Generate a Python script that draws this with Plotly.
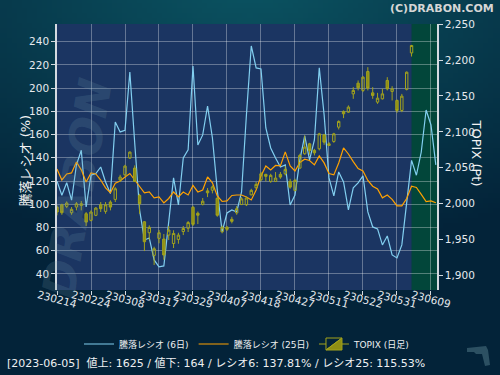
import base64, struct, zlib
import numpy as np
import plotly.graph_objects as go

# ---------------- data ----------------
tick_labels = ['230214', '230224', '230308', '230317', '230329', '230407',
               '230418', '230427', '230511', '230522', '230531', '230609']

ratio6 = [119.8, 107.8, 118.6, 103.5, 134.0, 146.5, 97.7, 125.0, 126.4, 132.1,
          119.2, 109.2, 170.9, 162.3, 163.7, 213.9, 152.8, 95.1, 69.3, 71.0,
          52.1, 46.1, 46.9, 84.8, 122.7, 99.4, 139.9, 146.8, 219.1, 151.1,
          159.7, 184.6, 157.1, 112.3, 76.2, 92.5, 95.1, 93.4, 110.6, 176.9,
          236.3, 217.4, 216.5, 165.7, 148.5, 139.9, 132.1, 133.9, 99.4, 108.0,
          138.2, 158.8, 138.2, 155.4, 217.4, 176.9, 122.7, 107.2, 127.8, 119.2,
          95.1, 114.1, 118.4, 124.4, 93.4, 80.5, 78.8, 65.0, 72.7, 56.4,
          53.8, 65.0, 103.5, 137.81, 125.0, 145.0, 181.2, 168.3, 133.9]

ratio25 = [130.4, 120.9, 126.1, 127.0, 136.4, 129.6, 119.2, 127.0, 126.1, 120.9,
           114.1, 110.0, 118.1, 120.1, 123.5, 126.5, 120.9, 114.9, 109.8, 110.6,
           105.5, 106.3, 101.2, 105.0, 110.6, 106.3, 110.6, 108.0, 116.2, 110.6,
           112.3, 123.5, 118.4, 107.2, 102.4, 102.9, 107.6, 108.0, 108.0, 106.3,
           103.7, 112.3, 124.4, 133.0, 129.6, 133.4, 133.0, 145.1, 133.0, 128.7,
           136.0, 138.8, 137.7, 133.9, 141.6, 135.6, 126.5, 125.3, 135.6, 148.5,
           143.3, 136.7, 130.8, 128.7, 120.5, 115.6, 113.2, 105.5, 107.9, 104.2,
           98.6, 98.6, 105.0, 115.53, 114.5, 108.5, 102.4, 102.9, 101.3]

topix_open = [1995.1, 1998.3, 1996.1, 1987.2, 1995.1, 1999.7, 1985.8, 1976.6, 1983.6, 1998.3,
              1989.1, 2002.1, 2005.8, 2033.1, 2040.1, 2063.4, 2049.4, 2011.4, 1974.6, 1959.3,
              1927.8, 1951.5, 1950.5, 1956.1, 1944.3, 1950.0, 1961.0, 1965.6, 1994.8, 1986.5,
              1998.9, 2017.7, 2018.6, 2007.4, 1960.6, 1967.0, 1978.0, 1987.0, 1998.6, 1998.3,
              2012.2, 2022.0, 2033.1, 2040.7, 2030.9, 2030.9, 2040.7, 2041.5, 2030.9, 2018.4,
              2049.4, 2069.4, 2083.3, 2074.1, 2076.3, 2095.8, 2083.3, 2086.6, 2106.5, 2128.4,
              2127.4, 2152.9, 2167.8, 2157.7, 2184.1, 2154.3, 2141.4, 2146.0, 2171.6, 2156.3,
              2143.7, 2129.8, 2159.1, 2210.0]
topix_high = [1997.5, 1999.7, 2003.0, 1995.1, 2002.1, 2003.5, 1988.2, 1990.5, 1995.0, 2002.1,
              2002.1, 2004.5, 2022.9, 2040.1, 2054.0, 2072.7, 2053.2, 2013.6, 1975.5, 1969.6,
              1939.8, 1963.1, 1957.5, 1968.7, 1962.7, 1959.3, 1968.7, 1975.6, 1997.0, 1988.9,
              2007.7, 2021.6, 2025.3, 2008.6, 1969.2, 1968.7, 1981.6, 1996.5, 2009.0, 2009.7,
              2020.6, 2030.0, 2043.9, 2041.5, 2041.5, 2043.9, 2043.9, 2052.2, 2034.5, 2034.5,
              2069.4, 2095.0, 2084.7, 2076.3, 2098.6, 2097.2, 2085.6, 2098.6, 2115.9, 2129.8,
              2136.8, 2162.3, 2171.6, 2177.6, 2190.1, 2162.3, 2154.3, 2159.9, 2176.2, 2163.6,
              2145.1, 2152.9, 2184.1, 2221.2]
topix_low = [1983.6, 1984.4, 1993.7, 1984.4, 1990.5, 1990.5, 1968.7, 1975.2, 1982.5, 1988.2,
             1985.8, 1990.5, 2002.1, 2030.0, 2038.3, 2062.4, 2030.0, 1985.8, 1933.8, 1949.2,
             1914.3, 1944.6, 1921.7, 1949.2, 1938.0, 1944.0, 1956.1, 1960.3, 1968.7, 1971.4,
             1997.5, 2009.0, 2014.2, 1981.6, 1958.5, 1961.7, 1972.4, 1984.4, 1997.9, 1996.5,
             2011.4, 2020.6, 2030.9, 2030.9, 2029.0, 2030.0, 2034.5, 2039.3, 2020.6, 2017.0,
             2048.5, 2068.0, 2068.0, 2067.1, 2074.1, 2081.9, 2080.1, 2084.7, 2103.3, 2119.1,
             2126.5, 2146.0, 2157.7, 2155.3, 2157.7, 2146.0, 2139.0, 2145.1, 2157.7, 2143.7,
             2126.5, 2127.4, 2157.7, 2205.0]
topix_close = [1988.2, 1987.2, 2000.7, 1991.9, 1999.7, 1997.5, 1974.2, 1988.2, 1993.7, 1992.8,
               1998.3, 1995.1, 2020.6, 2036.9, 2052.2, 2071.7, 2030.9, 1999.7, 1946.8, 1966.8,
               1937.0, 1959.3, 1928.3, 1963.1, 1958.3, 1956.0, 1965.2, 1973.5, 1971.1, 1983.7,
               2003.2, 2015.0, 2023.2, 1983.7, 1967.0, 1964.1, 1975.2, 1992.8, 2006.5, 2007.7,
               2018.4, 2026.7, 2041.5, 2037.9, 2039.3, 2035.5, 2036.9, 2047.6, 2022.9, 2032.3,
               2067.1, 2078.7, 2074.1, 2070.7, 2097.2, 2085.6, 2081.0, 2097.2, 2114.5, 2125.1,
               2134.4, 2157.7, 2161.3, 2176.2, 2160.9, 2150.7, 2146.9, 2152.9, 2159.9, 2159.9,
               2129.8, 2149.7, 2183.1, 2220.3]

current_index = 73
footer_text = "[2023-06-05]  値上: 1625 / 値下: 164 / レシオ6: 137.81% / レシオ25: 115.53%"

x_line = list(range(len(ratio6)))
x_candle = list(range(len(topix_open)))
tick_vals = [7 * k for k in range(len(tick_labels))]

# ---------------- background gradient image ----------------
def gradient_png(w=100, h=75):
    dark = np.array([3, 35, 57], dtype=float)
    bright = np.array([11, 84, 98], dtype=float)
    u = (np.arange(w) + 0.5) / w
    v = (np.arange(h) + 0.5) / h
    U, V = np.meshgrid(u, v)
    dx = (U - 0.5) / 0.7
    dy = (V + 0.05) / 0.55
    d = np.sqrt(dx ** 2 + dy ** 2)
    t = np.clip(1 - 0.75 * d, 0, 1)[..., None]
    img = (dark + t * (bright - dark)).round().astype(np.uint8)
    raw = b''.join(b'\x00' + img[r].tobytes() for r in range(h))

    def chunk(tag, data):
        return (struct.pack('>I', len(data)) + tag + data +
                struct.pack('>I', zlib.crc32(tag + data) & 0xffffffff))
    png = (b'\x89PNG\r\n\x1a\n' +
           chunk(b'IHDR', struct.pack('>IIBBBBB', w, h, 8, 2, 0, 0, 0)) +
           chunk(b'IDAT', zlib.compress(raw)) + chunk(b'IEND', b''))
    return 'data:image/png;base64,' + base64.b64encode(png).decode()

# ---------------- figure ----------------
W, H = 500, 375
ML, MR, MT, MB = 57, 63, 24, 85
PW, PH = W - ML - MR, H - MT - MB

def px(xpix):
    return (xpix - ML) / PW

def py(ypix):
    return (H - MB - ypix) / PH

FONT = "DejaVu Sans, Noto Sans CJK JP"
TXT = "#e6eaee"
GRID = "rgba(255,255,255,0.32)"
AXC = "#d4dae0"

fig = go.Figure()

fig.add_trace(go.Scatter(
    x=x_line, y=ratio6, mode='lines', name='騰落レシオ (6日)',
    line=dict(color='#82cff0', width=1.2), yaxis='y'))
fig.add_trace(go.Scatter(
    x=x_line, y=ratio25, mode='lines', name='騰落レシオ (25日)',
    line=dict(color='#ffa200', width=1.2), yaxis='y'))
fig.add_trace(go.Candlestick(
    x=x_candle, open=topix_open, high=topix_high, low=topix_low, close=topix_close,
    name='TOPIX (日足)', yaxis='y2', whiskerwidth=0,
    increasing=dict(line=dict(color='#a3a31c', width=1), fillcolor='rgba(0,0,0,0)'),
    decreasing=dict(line=dict(color='#a3a31c', width=1), fillcolor='#8e8e14')))

annotations = []
for v, lab in zip(tick_vals, tick_labels):
    annotations.append(dict(x=v, xref='x', y=py(299), yref='paper', text=lab,
                            showarrow=False, textangle=15, xanchor='center', yanchor='middle',
                            font=dict(family=FONT, size=10.5, color=TXT)))
annotations += [
    dict(x=px(29), y=py(188), xref='paper', yref='paper', text='<b><i>DRABON</i></b>',
         showarrow=False, textangle=-80,
         font=dict(family=FONT, size=46, color='rgba(110,150,170,0.20)')),
    dict(x=px(15), y=py(161), xref='paper', yref='paper', text='騰落レシオ (%)',
         showarrow=False, textangle=-90, font=dict(family=FONT, size=13, color='#f2f2f2')),
    dict(x=px(486), y=py(153), xref='paper', yref='paper', text='TOPIX (Pt)',
         showarrow=False, textangle=90, font=dict(family=FONT, size=13, color='#f2f2f2')),
    dict(x=px(496), y=py(8), xref='paper', yref='paper', text='<b>(C)DRABON.COM</b>',
         showarrow=False, xanchor='right', yanchor='middle',
         font=dict(family=FONT, size=11, color='#d6d6d6')),
    dict(x=px(5), y=py(363), xref='paper', yref='paper', text=footer_text,
         showarrow=False, xanchor='left', yanchor='middle',
         font=dict(family=FONT, size=11, color='#eef0f2')),
]

shapes = [
    dict(type='rect', xref='paper', yref='paper', x0=0, x1=1, y0=0, y1=1,
         fillcolor='#1b3562', line=dict(width=0), layer='below'),
    dict(type='rect', xref='x', yref='paper', x0=current_index, x1=78.24, y0=0, y1=1,
         fillcolor='#02463a', line=dict(width=0), layer='below'),
    dict(type='path', xref='paper', yref='paper', fillcolor='#2c5062', line=dict(width=0),
         path='M {} {} L {} {} L {} {} L {} {} L {} {} L {} {} L {} {} L {} {} L {} {} Z'.format(
             px(467), py(348), px(486), py(346), px(488), py(350), px(490), py(365),
             px(485), py(366), px(482), py(354), px(476), py(354), px(474), py(352),
             px(467), py(352))),
]

fig.update_layout(
    width=W, height=H,
    margin=dict(l=ML, r=MR, t=MT, b=MB, autoexpand=False),
    paper_bgcolor='#03233a', plot_bgcolor='rgba(0,0,0,0)',
    font=dict(family=FONT, color=TXT, size=10.5),
    showlegend=True,
    legend=dict(orientation='h', x=0.5, xanchor='center', y=py(344), yanchor='middle',
                font=dict(family=FONT, size=9, color='#eef0f2'), bgcolor='rgba(0,0,0,0)',
                itemwidth=30),
    xaxis=dict(range=[0, 78.24], tickvals=tick_vals, showticklabels=False,
               showgrid=True, gridcolor=GRID, gridwidth=1, zeroline=False,
               ticks='outside', ticklen=4, tickcolor=AXC, showline=False,
               rangeslider=dict(visible=False), fixedrange=True),
    yaxis=dict(range=[26.2, 255.2], tickvals=list(range(40, 241, 20)),
               showgrid=True, gridcolor=GRID, gridwidth=1, zeroline=False,
               ticks='outside', ticklen=4, tickcolor=AXC, showline=True, linecolor=AXC,
               linewidth=1.5, tickfont=dict(family=FONT, size=10.5, color=TXT)),
    yaxis2=dict(range=[1879.5, 2250.3], overlaying='y', side='right',
                tickvals=list(range(1900, 2251, 50)), tickformat=',d',
                showgrid=False, zeroline=False, ticks='outside', ticklen=4, tickcolor=AXC,
                showline=True, linecolor=AXC, linewidth=1.5,
                tickfont=dict(family=FONT, size=10.5, color=TXT)),
    images=[dict(source=gradient_png(), xref='paper', yref='paper',
                 x=px(0), y=py(0), sizex=W / PW, sizey=H / PH,
                 xanchor='left', yanchor='top', sizing='stretch', layer='below')],
    annotations=annotations,
    shapes=shapes,
)

fig.write_html("out.html", config={'displayModeBar': False},
               post_script="document.body.style.margin='0';document.body.style.overflow='hidden';")
